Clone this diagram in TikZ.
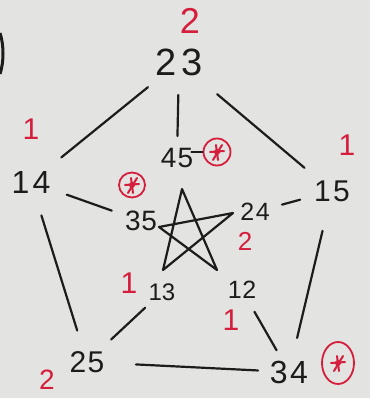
\documentclass[tikz,border=0pt]{standalone}
\usepackage{fontspec}
\setmainfont{Liberation Sans}
\usetikzlibrary{calc,shapes.geometric}
\definecolor{bg}{HTML}{E3E3E1}
\definecolor{ink}{HTML}{1C1C1C}
\definecolor{pen}{HTML}{D41E3C}
\newcommand\linkAB[4]{\draw[edgeline] ($(#1.center)!#3pt!(#2.center)$) -- ($(#2.center)!#4pt!(#1.center)$);}
\newcommand\asterisk[1]{%
  \draw[penline] ($(#1.center)+(-4,8)$) -- ($(#1.center)+(5,-7)$);
  \draw[penline] ($(#1.center)+(-7,0)$) -- ($(#1.center)+(7,-1)$);
  \draw[penline] ($(#1.center)+(-1,-7)$) -- ($(#1.center)+(1,8)$);
  \fill[pen] (#1.center) circle (3pt);}
\newcommand\sz[2]{\fontsize{#1}{#1}\selectfont\addfontfeature{LetterSpace=#2}}
\begin{document}
\begin{tikzpicture}[x=1pt,y=-1pt,
  lab/.style={text=ink, inner sep=0pt},
  num/.style={text=pen, inner sep=0pt, font=\fontsize{30}{30}\selectfont},
  edgeline/.style={draw=ink, line width=2.2pt, line cap=round},
  penline/.style={draw=pen, line width=2pt, line cap=round},
  ring/.style={draw=pen, ellipse, line width=1.8pt, inner sep=0pt}]
\fill[bg] (0,0) rectangle (370,398);
\useasboundingbox (0,0) rectangle (370,398);
% partial stroke at left edge
\draw[ink, line width=3pt] (0,33) .. controls (4,45) and (4,62) .. (0,74);
% vertex labels
\node[lab, font=\sz{38}{12}] (n23) at (179,62) {23};
\node[lab, font=\sz{32}{10}] (n14) at (31,182) {14};
\node[lab, font=\sz{30}{8}] (n15) at (332,191) {15};
\node[lab, font=\sz{28}{4}] (n45) at (177,158) {45};
\node[lab, font=\sz{28}{2}] (n35) at (141,221) {35};
\node[lab, font=\sz{25}{6}] (n24) at (255,212) {24};
\node[lab, font=\sz{24}{0}] (n13) at (162,292) {13};
\node[lab, font=\sz{25}{2}] (n12) at (242,290) {12};
\node[lab, font=\sz{30}{4}] (n25) at (87,362) {25};
\node[lab, font=\sz{32}{8}] (n34) at (289,372) {34};
% red numbers
\node[num, font=\fontsize{36}{36}\selectfont] (r23) at (190,21) {2};
\node[num] (r14) at (31,129) {1};
\node[num] (r15) at (347,145) {1};
\node[num, font=\fontsize{26}{26}\selectfont] (r24) at (245,241) {2};
\node[num] (r13) at (129,283) {1};
\node[num] (r12) at (231,320) {1};
\node[num, font=\fontsize{28}{28}\selectfont] (r25) at (47,380) {2};
% outer pentagon
\linkAB{n23}{n14}{40}{39}
\linkAB{n23}{n15}{50}{36}
\linkAB{n14}{n25}{35}{33}
\linkAB{n15}{n34}{41}{35}
\linkAB{n25}{n34}{49}{31}
% spokes
\linkAB{n23}{n45}{33}{22}
\linkAB{n14}{n35}{38}{31}
\linkAB{n15}{n24}{33}{28}
\linkAB{n25}{n13}{33}{23}
\linkAB{n34}{n12}{25}{25}
% inner pentagram
\coordinate (s1) at (182,189);
\coordinate (s2) at (159,227);
\coordinate (s3) at (233,213);
\coordinate (s4) at (163,270);
\coordinate (s5) at (217,270);
\draw[edgeline, line join=round] (s4) -- (s1) -- (s5) -- (s2) -- (s3) -- (s4);
% starred marks
\node[ring, minimum width=27pt, minimum height=27pt] (c45) at (217,152) {};
\node[ring, minimum width=26pt, minimum height=25pt] (c35) at (132,185) {};
\node[ring, minimum width=32pt, minimum height=42pt] (c34) at (338,363) {};
\asterisk{c45}
\asterisk{c35}
\asterisk{c34}
\draw[edgeline, line width=1.8pt] ($(n45.east)+(-2,-6)$) -- (c45.west);
\end{tikzpicture}
\end{document}
